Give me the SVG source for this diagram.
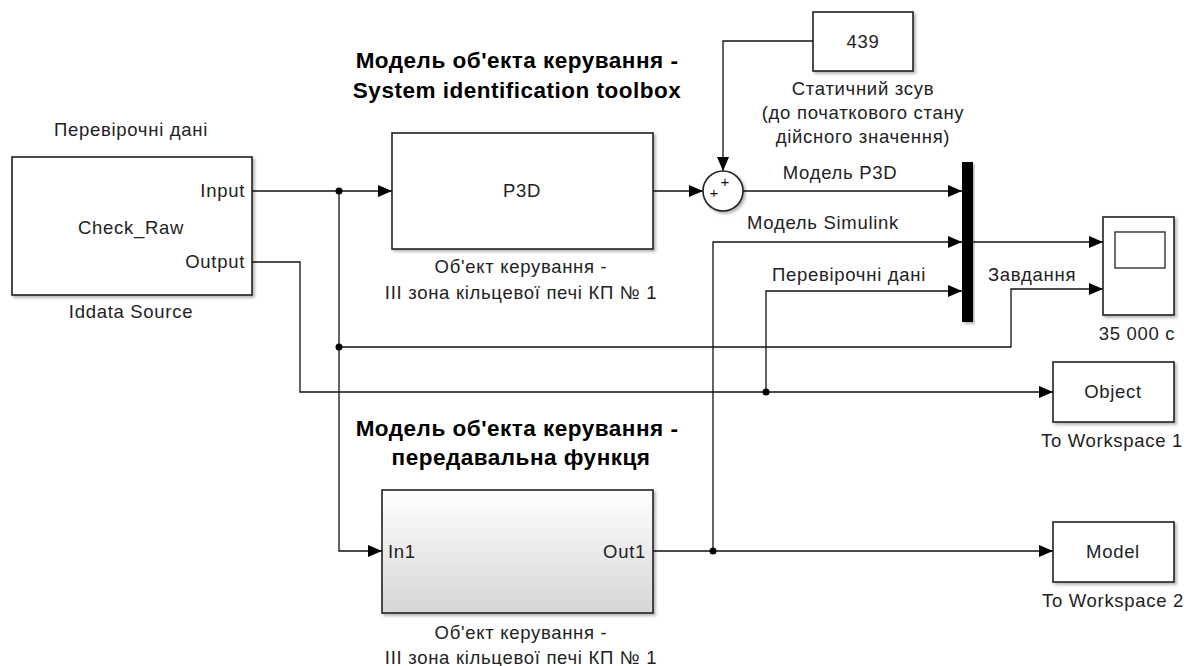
<svg xmlns="http://www.w3.org/2000/svg" width="1187" height="666" viewBox="0 0 1187 666">
<defs>
<style>
.blk{fill:#fff;stroke:#222;stroke-width:1.6}
.ln{fill:none;stroke:#111;stroke-width:1.3}
.t{font-family:"Liberation Sans",Arial,sans-serif;font-size:18.5px;fill:#222;letter-spacing:0.7px}
.c{text-anchor:middle}
.r{text-anchor:end}
.b{font-family:"Liberation Sans",Arial,sans-serif;font-size:22.5px;font-weight:bold;fill:#000;text-anchor:middle;letter-spacing:0.5px}
.dot{fill:#000}
.pl{font-family:"Liberation Sans",Arial,sans-serif;font-size:15px;fill:#111;text-anchor:middle}
</style>
<marker id="ar" viewBox="0 0 14 12" refX="14" refY="6" markerWidth="14" markerHeight="12" markerUnits="userSpaceOnUse" orient="auto">
<path d="M0,0 L14,6 L0,12 z" fill="#000"/>
</marker>
<filter id="sh" x="-5%" y="-5%" width="115%" height="120%">
<feDropShadow dx="2" dy="2" stdDeviation="1.5" flood-color="#000" flood-opacity="0.3"/>
</filter>
<linearGradient id="gr" x1="0" y1="0" x2="0" y2="1">
<stop offset="0" stop-color="#ffffff"/>
<stop offset="1" stop-color="#d6d6d6"/>
</linearGradient>
</defs>
<rect width="1187" height="666" fill="#fff"/>

<g id="connectors">
<path class="ln" d="M252,191 H392" marker-end="url(#ar)"/>
<path class="ln" d="M339,191 V551 H382" marker-end="url(#ar)"/>
<path class="ln" d="M339,347 H1011 V289 H1103" marker-end="url(#ar)"/>
<path class="ln" d="M252,262 H300 V392 H1053" marker-end="url(#ar)"/>
<path class="ln" d="M766,392 V291 H962" marker-end="url(#ar)"/>
<path class="ln" d="M653,191 H703" marker-end="url(#ar)"/>
<path class="ln" d="M813,41 H723 V171" marker-end="url(#ar)"/>
<path class="ln" d="M743,191 H962" marker-end="url(#ar)"/>
<path class="ln" d="M653,551 H1053" marker-end="url(#ar)"/>
<path class="ln" d="M713,551 V242 H962" marker-end="url(#ar)"/>
<path class="ln" d="M973,242 H1103" marker-end="url(#ar)"/>
<circle class="dot" cx="339" cy="191" r="3.5"/>
<circle class="dot" cx="339" cy="347" r="3.5"/>
<circle class="dot" cx="766" cy="392" r="3.5"/>
<circle class="dot" cx="713" cy="551" r="3.5"/>
<text class="t c" x="840" y="179">Модель P3D</text>
<text class="t c" x="823" y="229">Модель Simulink</text>
<text class="t c" x="849" y="281">Перевірочні дані</text>
<text class="t c" x="1032" y="281">Завдання</text>
</g>

<g id="iddata">
<rect class="blk" x="12" y="157" width="240" height="138" filter="url(#sh)"/>
<text class="t c" x="131" y="136">Перевірочні дані</text>
<text class="t r" x="245" y="197">Input</text>
<text class="t c" x="131" y="234">Check_Raw</text>
<text class="t r" x="245" y="268">Output</text>
<text class="t c" x="131" y="318">Iddata Source</text>
</g>

<g id="title1">
<text class="b" x="517" y="68">Модель об'екта керування -</text>
<text class="b" x="517" y="98">System identification toolbox</text>
</g>

<g id="p3d">
<rect class="blk" x="392" y="133" width="261" height="116" filter="url(#sh)"/>
<text class="t c" x="522" y="197">P3D</text>
<text class="t c" x="521" y="273">Об'ект керування -</text>
<text class="t c" x="521" y="299">ІІІ зона кільцевої печі КП № 1</text>
</g>

<g id="const439">
<rect class="blk" x="813" y="12" width="100" height="59" filter="url(#sh)"/>
<text class="t c" x="863" y="48">439</text>
<text class="t c" x="863" y="95">Статичний зсув</text>
<text class="t c" x="863" y="119">(до початкового стану</text>
<text class="t c" x="863" y="143">дійсного значення)</text>
</g>

<g id="sum">
<circle cx="723" cy="191" r="20" fill="#fff" stroke="#222" stroke-width="1.6" filter="url(#sh)"/>
<text class="pl" x="714" y="198">+</text>
<text class="pl" x="725" y="187">+</text>
</g>

<g id="mux">
<rect x="962" y="162" width="11" height="160" fill="#000" filter="url(#sh)"/>
</g>

<g id="scope">
<rect class="blk" x="1103" y="217" width="71" height="98" filter="url(#sh)"/>
<rect x="1115" y="232" width="50" height="36" fill="#fff" stroke="#222" stroke-width="1.3"/>
<text class="t c" x="1137" y="340">35 000 c</text>
</g>

<g id="object">
<rect class="blk" x="1053" y="362" width="121" height="60" filter="url(#sh)"/>
<text class="t c" x="1113" y="398">Object</text>
<text class="t c" x="1112" y="447">To Workspace 1</text>
</g>

<g id="title2">
<text class="b" x="517" y="436">Модель об'екта керування -</text>
<text class="b" x="521" y="465">передавальна функця</text>
</g>

<g id="subsystem">
<rect x="382" y="490" width="271" height="123" fill="url(#gr)" stroke="#222" stroke-width="1.6" filter="url(#sh)"/>
<text class="t" x="388" y="558">In1</text>
<text class="t r" x="646" y="558">Out1</text>
<text class="t c" x="521" y="639">Об'ект керування -</text>
<text class="t c" x="521" y="664">ІІІ зона кільцевої печі КП № 1</text>
</g>

<g id="model">
<rect class="blk" x="1053" y="522" width="121" height="60" filter="url(#sh)"/>
<text class="t c" x="1113" y="558">Model</text>
<text class="t c" x="1113" y="607">To Workspace 2</text>
</g>
</svg>
